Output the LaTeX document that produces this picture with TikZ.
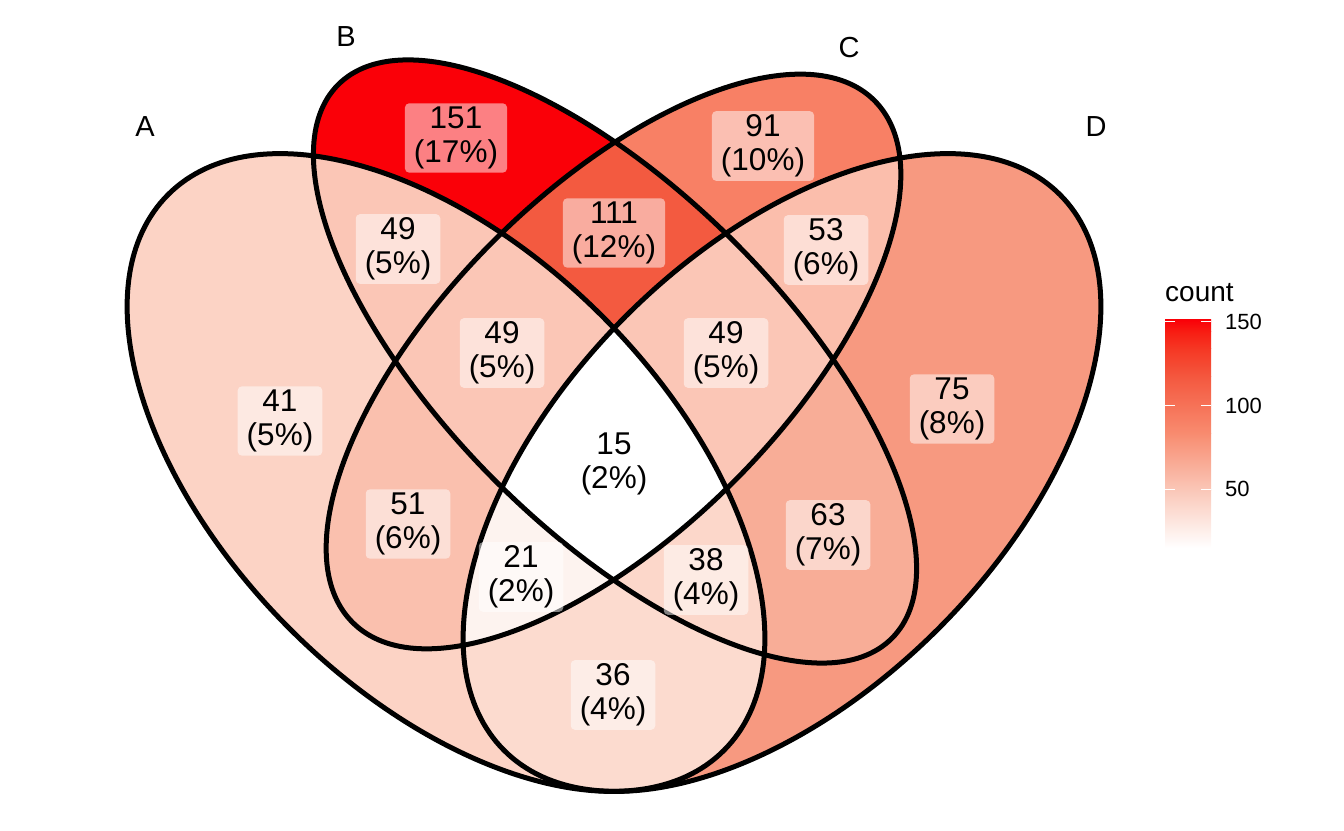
\documentclass[tikz,border=0pt]{standalone}
\usepackage{fontspec}
\setmainfont{Liberation Sans}
\usepackage{tikz}

% region fills (white -> red over 15..151)
\definecolor{regA}{RGB}{252,211,197}
\definecolor{regB}{RGB}{250,0,8}
\definecolor{regC}{RGB}{248,128,101}
\definecolor{regD}{RGB}{247,153,128}
\definecolor{regAB}{RGB}{251,198,182}
\definecolor{regAC}{RGB}{250,192,174}
\definecolor{regAD}{RGB}{252,219,207}
\definecolor{regBC}{RGB}{243,90,64}
\definecolor{regBD}{RGB}{248,173,151}
\definecolor{regCD}{RGB}{251,190,172}
\definecolor{regABC}{RGB}{251,198,182}
\definecolor{regABD}{RGB}{252,215,202}
\definecolor{regACD}{RGB}{253,243,239}
\definecolor{regBCD}{RGB}{251,198,182}
\definecolor{regABCD}{RGB}{255,255,255}
\definecolor{barA}{RGB}{250,200,185}
\definecolor{barB}{RGB}{248,140,112}
\definecolor{barC}{RGB}{244,88,63}
\definecolor{barD}{RGB}{245,55,35}
\definecolor{barE}{RGB}{248,28,18}

\newcommand{\setA}[1]{\path[#1, rotate around={-45:(446,357.5)}] (446,357.5) ellipse [x radius=393, y radius=221];}
\newcommand{\setB}[1]{\path[#1, rotate around={-45:(615,468.5)}] (615,468.5) ellipse [x radius=391.5, y radius=169];}
\newcommand{\setC}[1]{\path[#1, rotate around={45:(613.5,468.5)}] (613.5,468.5) ellipse [x radius=369, y radius=170];}
\newcommand{\setD}[1]{\path[#1, rotate around={45:(782,357.5)}] (782,357.5) ellipse [x radius=393, y radius=221];}

\begin{document}
\begin{tikzpicture}[x=1pt, y=1pt,
    cnt/.style={fill=white, fill opacity=0.5, text opacity=1, rounded corners=4pt,
      inner xsep=9pt, inner ysep=3.5pt, align=center, font=\fontsize{31.5}{34}\selectfont},
    setname/.style={font=\fontsize{29}{33}\selectfont, inner sep=0pt},
    tick/.style={anchor=west, inner sep=0pt, font=\fontsize{22}{24}\selectfont}]
  \useasboundingbox (0,0) rectangle (1344,830);

  % one set
  \setA{fill=regA} \setB{fill=regB} \setC{fill=regC} \setD{fill=regD}
  % two sets
  \begin{scope}\setA{clip}\setB{fill=regAB}\end{scope}
  \begin{scope}\setA{clip}\setC{fill=regAC}\end{scope}
  \begin{scope}\setA{clip}\setD{fill=regAD}\end{scope}
  \begin{scope}\setB{clip}\setC{fill=regBC}\end{scope}
  \begin{scope}\setB{clip}\setD{fill=regBD}\end{scope}
  \begin{scope}\setC{clip}\setD{fill=regCD}\end{scope}
  % three sets
  \begin{scope}\setA{clip}\setB{clip}\setC{fill=regABC}\end{scope}
  \begin{scope}\setA{clip}\setB{clip}\setD{fill=regABD}\end{scope}
  \begin{scope}\setA{clip}\setC{clip}\setD{fill=regACD}\end{scope}
  \begin{scope}\setB{clip}\setC{clip}\setD{fill=regBCD}\end{scope}
  % four sets
  \begin{scope}\setA{clip}\setB{clip}\setC{clip}\setD{fill=regABCD}\end{scope}

  \setA{draw, line width=5pt} \setB{draw, line width=5pt}
  \setC{draw, line width=5pt} \setD{draw, line width=5pt}

  % counts
  \node[cnt] (nA)    at (280,409) {41\\(5\%)};
  \node[cnt] (nB)    at (456,692) {151\\(17\%)};
  \node[cnt] (nC)    at (763,684) {91\\(10\%)};
  \node[cnt] (nD)    at (952,421) {75\\(8\%)};
  \node[cnt] (nAB)   at (398,581) {49\\(5\%)};
  \node[cnt] (nBC)   at (614,597) {111\\(12\%)};
  \node[cnt] (nCD)   at (826,580) {53\\(6\%)};
  \node[cnt] (nABC)  at (502,477) {49\\(5\%)};
  \node[cnt] (nBCD)  at (726,477) {49\\(5\%)};
  \node[cnt] (nABCD) at (614,366) {15\\(2\%)};
  \node[cnt] (nAC)   at (408,306) {51\\(6\%)};
  \node[cnt] (nBD)   at (828,295) {63\\(7\%)};
  \node[cnt] (nACD)  at (521,253) {21\\(2\%)};
  \node[cnt] (nABD)  at (706,250) {38\\(4\%)};
  \node[cnt] (nAD)   at (613,135) {36\\(4\%)};

  % set names
  \node[setname] (lA) at (145,703) {A};
  \node[setname] (lB) at (346,793) {B};
  \node[setname] (lC) at (849,782) {C};
  \node[setname] (lD) at (1096,703) {D};

  % legend
  \node[anchor=base west, inner sep=0pt, font=\fontsize{28}{30}\selectfont] (ltitle) at (1165,528) {count};
  \foreach \ya/\yb/\ca/\cb in {282/339/white/barA, 339/396/barA/barB, 396/453/barB/barC,
      453/481.5/barC/barD, 481.5/498.6/barD/barE, 498.6/510/barE/regB}
    \shade[bottom color=\ca, top color=\cb] (1165,\ya) rectangle (1211,\yb+0.3);
  \foreach \y in {340.7,424.5,508.3}
    \draw[white, line width=1pt] (1165,\y) -- (1175,\y) (1201,\y) -- (1211,\y);
  \node[tick] (t150) at (1225,508.3) {150};
  \node[tick] (t100) at (1225,424.5) {100};
  \node[tick] (t50)  at (1225,340.7) {50};
\end{tikzpicture}
\end{document}
